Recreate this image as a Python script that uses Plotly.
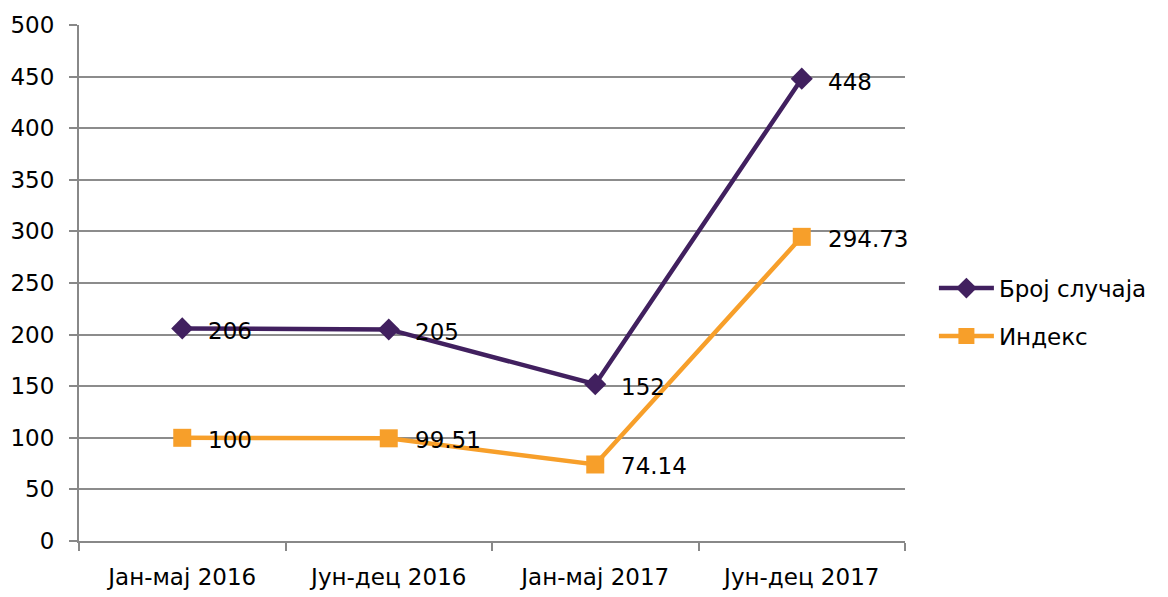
import plotly.graph_objects as go

categories = ["Јан-мај 2016", "Јун-дец 2016", "Јан-мај 2017", "Јун-дец 2017"]
cases = [206, 205, 152, 448]
index_vals = [100, 99.51, 74.14, 294.73]
case_labels = ["206", "205", "152", "448"]
index_labels = ["100", "99.51", "74.14", "294.73"]
y_ticks = [0, 50, 100, 150, 200, 250, 300, 350, 400, 450, 500]

PURPLE = "#41205f"
ORANGE = "#f79f2a"
FONT = "DejaVu Sans"
FS = 23

fig = go.Figure()
fig.add_trace(go.Scatter(
    x=categories, y=cases, name="Број случаја", mode="lines+markers",
    line=dict(color=PURPLE, width=4.5),
    marker=dict(symbol="diamond", size=17, color=PURPLE),
    legend="legend",
))
fig.add_trace(go.Scatter(
    x=categories, y=index_vals, name="Индекс", mode="lines+markers",
    line=dict(color=ORANGE, width=4.5),
    marker=dict(symbol="square", size=18, color=ORANGE),
    legend="legend2",
))

annotations = []
for c, v, t in zip(categories, cases, case_labels):
    annotations.append(dict(x=c, y=v, text=t, showarrow=False, xanchor="left",
                            yanchor="middle", xshift=24, yshift=-3,
                            font=dict(family=FONT, size=FS, color="#000")))
for c, v, t in zip(categories, index_vals, index_labels):
    annotations.append(dict(x=c, y=v, text=t, showarrow=False, xanchor="left",
                            yanchor="middle", xshift=24, yshift=-2,
                            font=dict(family=FONT, size=FS, color="#000")))

leg_common = dict(xanchor="left", yanchor="middle", font=dict(family=FONT, size=FS),
                  itemwidth=55, bgcolor="rgba(0,0,0,0)")
fig.update_layout(
    width=1168, height=597,
    margin=dict(l=71, r=271, t=17, b=64, autoexpand=False),
    paper_bgcolor="white", plot_bgcolor="white",
    font=dict(family=FONT, size=FS, color="#000"),
    showlegend=True,
    legend=dict(x=1.035, y=0.49, **leg_common),
    legend2=dict(x=1.035, y=0.397, **leg_common),
    annotations=annotations,
)
fig.update_xaxes(
    type="category", tickson="boundaries", ticks="outside", ticklen=8,
    tickcolor="#888", tickwidth=2, showline=True, linecolor="#888", linewidth=2,
    showgrid=False, ticklabelstandoff=14, range=[-0.5, 3.5], automargin=False,
)
fig.update_yaxes(
    range=[0, 500], tickvals=y_ticks, ticks="outside", ticklen=8,
    tickcolor="#888", tickwidth=2, showline=True, linecolor="#888", linewidth=2,
    showgrid=True, gridcolor="#8c8c8c", gridwidth=2, zeroline=False,
    ticklabelstandoff=10, automargin=False,
)

fig.write_html("out.html")
